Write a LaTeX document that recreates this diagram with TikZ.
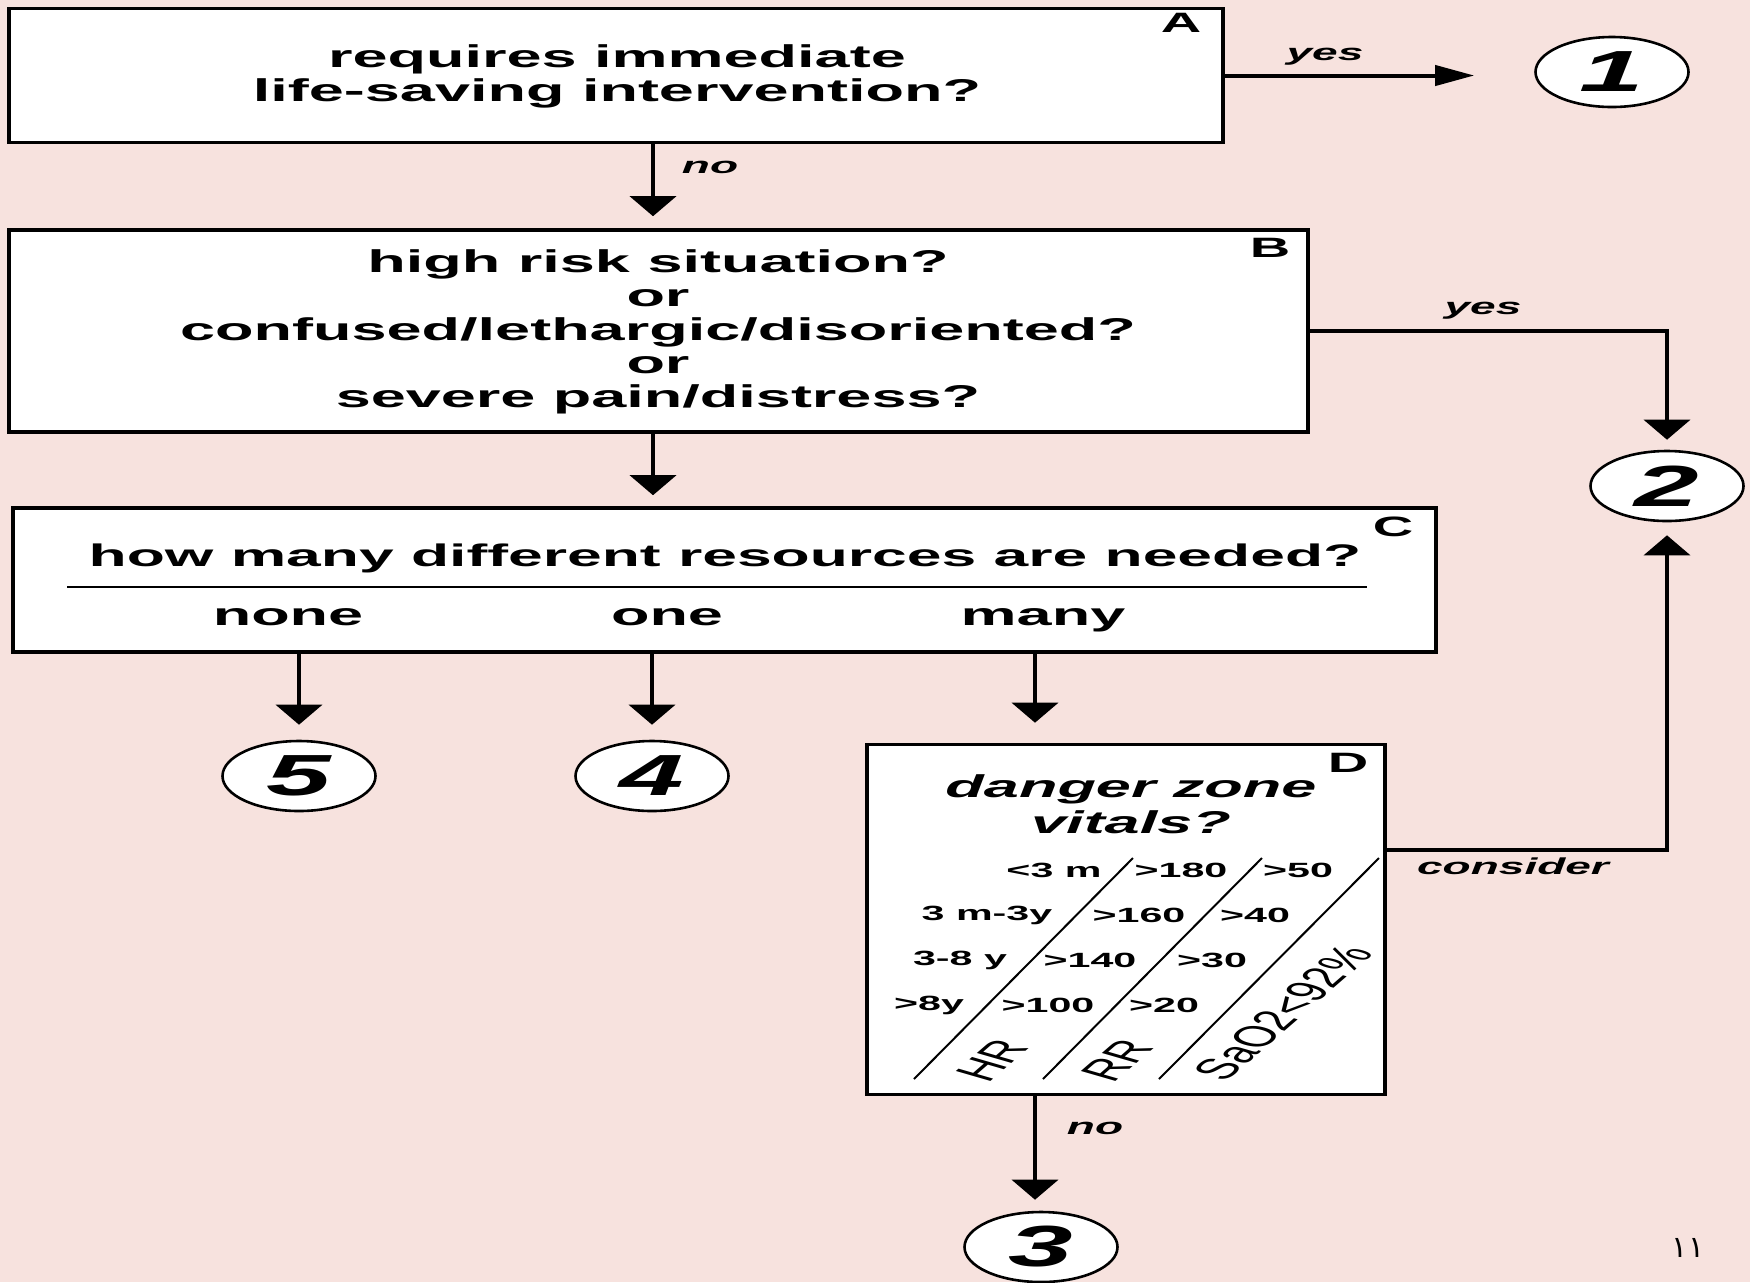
\documentclass[tikz,border=0pt]{standalone}
\usepackage{fontspec}
\setmainfont{Liberation Sans}
\newfontfamily\widefont[FakeStretch=2.0]{Liberation Sans}
\newfontfamily\arabicfont[Script=Arabic]{DejaVu Sans}
\TeXXeTstate=1
\usepackage{xcolor}
\usetikzlibrary{positioning, shapes.geometric, arrows.meta, calc}
\definecolor{pagebg}{RGB}{247,226,222}

\tikzset{
  qbox/.style={draw, line width=1.8pt, fill=white, inner sep=0pt},
  qtext/.style={align=center, inner sep=0pt, font=\widefont\bfseries\fontsize{15.75}{17}\selectfont},
  tag/.style={inner sep=0pt, font=\widefont\bfseries\fontsize{14}{14}\selectfont},
  level/.style={ellipse, draw, line width=1.3pt, fill=white, inner sep=0pt,
    minimum width=76.5pt, minimum height=35pt,
    font=\widefont\bfseries\itshape\fontsize{29}{29}\selectfont},
  answer/.style={inner sep=0pt, font=\widefont\bfseries\itshape\fontsize{11.5}{11.5}\selectfont},
  flow/.style={line width=2pt},
  down/.style={flow, -{Triangle[width=23pt,length=10pt]}},
  across/.style={flow, -{Triangle[width=10pt,length=19.5pt]}},
  vital/.style={inner sep=0pt, font=\widefont\bfseries\fontsize{10.3}{10.3}\selectfont},
  vitalrot/.style={inner sep=0pt, font=\fontsize{14.5}{14.5}\selectfont, xscale=2, rotate=60},
  diag/.style={line width=1pt}
}

\begin{document}
\begin{tikzpicture}[x=0.5pt, y=-0.5pt]
  \path[use as bounding box] (0,0) rectangle (1750,1282);
  \clip (0,0) rectangle (1750,1282);
  \fill[pagebg] (0,0) rectangle (1750,1282);

  % columns of the vertical arrows
  \coordinate (colone) at (653,0);
  \coordinate (colmany) at (1035,0);
  \coordinate (cons) at (1385,850);

  % question boxes
  \node[qbox, minimum width=607pt, minimum height=67pt] (A) at (616,75.5) {};
  \node[qbox, minimum width=649.5pt, minimum height=101pt] (B) at (658.5,331) {};
  \node[qbox, minimum width=711.5pt, minimum height=72pt] (C) at (724.5,580) {};
  \node[qbox, minimum width=259pt, minimum height=175pt] (D) at (1126,919.5) {};

  \node[tag] (Atag) at (1181,23) {A};
  \node[tag] (Btag) at (1270,248) {B};
  \node[tag] (Ctag) at (1393,527) {C};
  \node[tag] (Dtag) at (1348,763) {D};

  \node[qtext] (Atxt) at (617,76) {requires immediate\\life-saving intervention?};
  \node[qtext, font=\widefont\bfseries\fontsize{15.75}{16.9}\selectfont] (Btxt) at (658,332)
    {high risk situation?\\or\\confused/lethargic/disoriented?\\or\\severe pain/distress?};
  \node[qtext, font=\widefont\bfseries\fontsize{15.6}{17}\selectfont] (Ctxt) at (725,558)
    {how many different resources are needed?};
  \draw[line width=0.7pt] (67,587) -- (1367,587);
  \node[qtext, anchor=base] (none) at (288,625) {none};
  \node[qtext, anchor=base] (oneres) at (667,625) {one};
  \node[qtext, anchor=base] (many) at (1043,625) {many};

  % danger zone vitals
  \node[qtext, font=\widefont\bfseries\itshape\fontsize{15.75}{18}\selectfont] (Dtxt) at (1131,804)
    {danger zone\\vitals?};
  \draw[diag] (1133,858) -- (914,1079);
  \draw[diag] (1262,858) -- (1043,1079);
  \draw[diag] (1379,858) -- (1159,1079);
  \node[vital] (ageone) at (1054,870) {<3 m};
  \node[vital] (hrone) at (1181,870) {>180};
  \node[vital] (rrone) at (1298,870) {>50};
  \node[vital] (agetwo) at (987,915) {3 m-3y};
  \node[vital] (hrtwo) at (1139,915) {>160};
  \node[vital] (rrtwo) at (1255,915) {>40};
  \node[vital] (agethree) at (960,960) {3-8 y};
  \node[vital] (hrthree) at (1090,960) {>140};
  \node[vital] (rrthree) at (1212,960) {>30};
  \node[vital] (agefour) at (929,1005) {>8y};
  \node[vital] (hrfour) at (1048,1005) {>100};
  \node[vital] (rrfour) at (1164,1005) {>20};
  \node[vitalrot] (hr) at (992,1060) {HR};
  \node[vitalrot] (rr) at (1117,1060) {RR};
  \node[vitalrot] (sat) at (1283,1013) {SaO2<92\%};

  % triage levels
  \node[level] (one) at (1612,72) {1};
  \node[level] (two) at (1667,486) {2};
  \node[level] (three) at (1041,1247) {3};
  \node[level] (four) at (652,776) {4};
  \node[level] (five) at (299,776) {5};

  % connectors
  \draw[across, shorten >=30pt] (A.east) -- (A.east -| one.west);
  \node[answer] (yesA) at (1325,57) {yes};
  \draw[down, shorten >=6pt] (A.south -| colone) -- (B.north -| colone);
  \node[answer] (noA) at (710,167) {no};
  \draw[down, shorten >=5pt] (B.east) -| (two);
  \node[answer] (yesB) at (1483,311) {yes};
  \draw[down, shorten >=5.5pt] (B.south -| colone) -- (C.north -| colone);
  \draw[down, shorten >=7.5pt] (C.south -| five) -- (five);
  \draw[down, shorten >=7.5pt] (C.south -| four) -- (four);
  \draw[down, shorten >=10pt] (C.south -| colmany) -- (D.north -| colmany);
  \draw[down, shorten >=6.5pt] (cons) -| (two);
  \node[answer] (consider) at (1513,866) {consider};
  \draw[down, shorten >=5.5pt] (D.south -| colmany) -- (three.north -| colmany);
  \node[answer] (noD) at (1095,1128) {no};

  \node[font=\arabicfont\fontsize{15}{15}\selectfont] (pageno) at (1688,1248) {\beginR ١١\endR};
\end{tikzpicture}
\end{document}
